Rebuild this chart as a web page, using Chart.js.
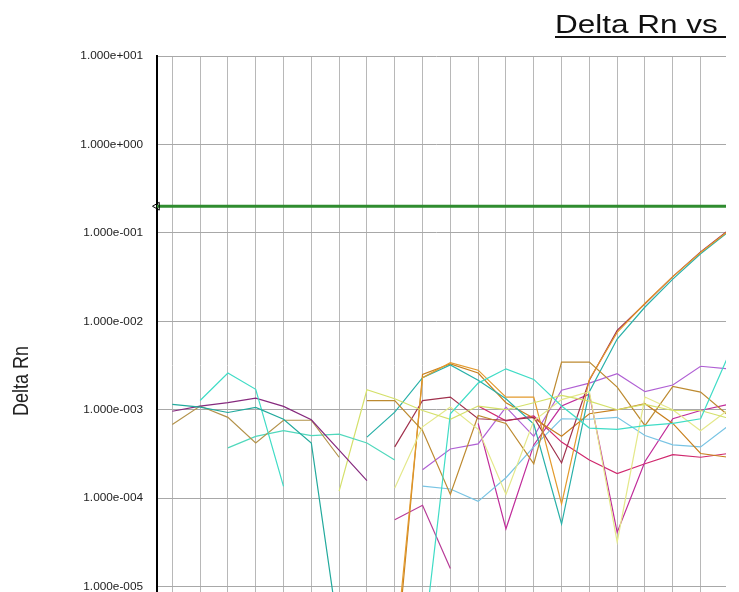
<!DOCTYPE html>
<html>
<head>
<meta charset="utf-8">
<script src="https://cdn.jsdelivr.net/npm/chart.js@4.4.1/dist/chart.umd.min.js"></script>
<style>
  html, body { margin: 0; padding: 0; background: #fff; overflow: hidden; }
  #wrap { position: absolute; left: 0; top: 0; width: 726px; height: 592px; overflow: hidden; background: #fff; }
  #chart { display: block; }
</style>
</head>
<body>
<div id="wrap"><canvas id="chart" width="1300" height="700"></canvas></div>
<script>
// cycles shown in the cropped view
const cycles = [1, 2, 3, 4, 5, 6, 7, 8, 9, 10, 11, 12, 13, 14, 15, 16, 17, 18, 19, 20, 21];

// Delta Rn per well (null = no value on a log axis)
const tealA = [1.15e-3, 1.07e-3, 0.93e-3, 1.06e-3, 0.78e-3, 0.42e-3, 2.7e-6, null, null, null, null, null, null, null, null, null, null, null, null, null, null];
const turqA = [null, 1.27e-3, 2.6e-3, 1.7e-3, 1.36e-4, null, null, null, null, 1.8e-6, 0.9e-3, 2.0e-3, 2.9e-3, 2.2e-3, 1.1e-3, 0.62e-3, 0.6e-3, 0.66e-3, 0.7e-3, 0.79e-3, 4.1e-3];
const purpleDk = [0.96e-3, 1.1e-3, 1.2e-3, 1.35e-3, 1.09e-3, 0.77e-3, 3.5e-4, 1.58e-4, null, null, null, null, null, null, null, null, null, null, null, null, null];
const olive = [0.68e-3, 1.1e-3, 0.82e-3, 0.42e-3, 0.76e-3, 0.76e-3, 2.9e-4, null, null, null, null, null, null, null, null, null, null, null, null, null, null];
const turqLt = [null, null, 0.37e-3, 0.5e-3, 0.58e-3, 0.51e-3, 0.53e-3, 0.42e-3, 0.27e-3, null, null, null, null, null, null, null, null, null, null, null, null];
const yellowA = [null, null, null, null, null, null, 1.2e-4, 1.68e-3, 1.33e-3, 0.98e-3, 0.78e-3, 1.1e-3, 1.0e-3, 1.2e-3, 1.45e-3, 1.25e-3, 1.0e-3, 1.15e-3, 0.98e-3, 0.98e-3, 0.8e-3];
const yellowB = [null, null, null, null, null, null, null, null, 1.3e-4, 0.64e-3, 1.07e-3, 0.6e-3, 1.1e-4, 0.75e-3, 1.3e-3, 1.6e-3, 3.2e-5, 1.39e-3, 1.0e-3, 0.58e-3, 1.0e-3];
const brownB = [null, null, null, null, null, null, null, 1.27e-3, 1.27e-3, 0.58e-3, 1.1e-4, 0.86e-3, 0.7e-3, 2.45e-4, 3.46e-3, 3.46e-3, 1.8e-3, 0.66e-3, 1.84e-3, 1.58e-3, 0.86e-3];
const orangeAmp = [null, null, null, null, null, null, null, null, 1.5e-6, 2.3e-3, 3.4e-3, 2.8e-3, 1.39e-3, 1.39e-3, 8.6e-5, 2.2e-3, 7.5e-3, 0.016, 0.032, 0.06, 0.105];
const maroonAmp = [null, null, null, null, null, null, null, null, 3.8e-4, 1.27e-3, 1.39e-3, 0.79e-3, 0.76e-3, 0.82e-3, 2.5e-4, 2.15e-3, 7.9e-3, 0.0158, 0.032, 0.061, 0.107];
const tealAmp = [null, null, null, null, null, null, null, 0.49e-3, 0.94e-3, 2.3e-3, 3.2e-3, 2.15e-3, 1.33e-3, 0.69e-3, 5.1e-5, 1.6e-3, 6.3e-3, 0.0145, 0.030, 0.058, 0.103];
const orangeDk = [null, null, null, null, null, null, null, null, 1.0e-6, 2.5e-3, 3.3e-3, 2.6e-3, 1.2e-3, 0.8e-3, 0.5e-3, 0.9e-3, 1.0e-3, 1.17e-3, 0.7e-3, 3.2e-4, 2.9e-4];
const pinkLow = [null, null, null, null, null, null, null, null, 5.7e-5, 8.3e-5, 1.6e-5, null, null, null, null, null, null, null, null, null, null];
const lightBlue = [null, null, null, null, null, null, null, null, null, 1.37e-4, 1.27e-4, 9.2e-5, 1.7e-4, 0.38e-3, 0.79e-3, 0.78e-3, 0.82e-3, 0.51e-3, 0.40e-3, 0.38e-3, 0.66e-3];
const violet = [null, null, null, null, null, null, null, null, null, 2.1e-4, 3.6e-4, 0.41e-3, 1.07e-3, 0.5e-3, 1.66e-3, 2.0e-3, 2.55e-3, 1.6e-3, 1.9e-3, 3.1e-3, 2.9e-3];
const magenta = [null, null, null, null, null, null, null, null, null, null, null, 0.7e-3, 4.5e-5, 0.4e-3, 1.1e-3, 1.5e-3, 4.1e-5, 2.6e-4, 0.79e-3, 0.98e-3, 1.15e-3];
const pinkRed = [null, null, null, null, null, null, null, null, null, null, null, 1.1e-3, 0.75e-3, 0.85e-3, 0.43e-3, 2.7e-4, 1.9e-4, 2.45e-4, 3.1e-4, 2.9e-4, 3.2e-4];

const threshold = 0.2;

const yTickValues = [1e-6, 1e-5, 1e-4, 1e-3, 1e-2, 1e-1, 1, 10];
const yTickLabels = ["1.000e-006", "1.000e-005", "1.000e-004", "1.000e-003", "1.000e-002", "1.000e-001", "1.000e+000", "1.000e+001"];

const titleText = "Delta Rn vs Cycle";
const yTitleText = "Delta Rn";

const wells = [
  { name: "tealA", values: tealA, color: "#22a99c" },
  { name: "turqA", values: turqA, color: "#3fdcc6" },
  { name: "purpleDk", values: purpleDk, color: "#862a7e" },
  { name: "olive", values: olive, color: "#b3924a" },
  { name: "turqLt", values: turqLt, color: "#50d8bc" },
  { name: "yellowA", values: yellowA, color: "#d4e06a" },
  { name: "yellowB", values: yellowB, color: "#e4e88a" },
  { name: "brownB", values: brownB, color: "#bd8a30" },
  { name: "orangeAmp", values: orangeAmp, color: "#e39a2c" },
  { name: "maroonAmp", values: maroonAmp, color: "#a0304c" },
  { name: "tealAmp", values: tealAmp, color: "#28b0a8" },
  { name: "orangeDk", values: orangeDk, color: "#c8801e" },
  { name: "pinkLow", values: pinkLow, color: "#b83c98" },
  { name: "lightBlue", values: lightBlue, color: "#78c4e4" },
  { name: "violet", values: violet, color: "#b060d4" },
  { name: "magenta", values: magenta, color: "#c02c9a" },
  { name: "pinkRed", values: pinkRed, color: "#d0286e" }
];

const datasets = wells.map(function (w) {
  return {
    label: w.name,
    data: cycles.map(function (c, i) { return { x: c, y: w.values[i] }; }),
    borderColor: w.color,
    backgroundColor: w.color,
    borderWidth: 1.2,
    pointRadius: 0,
    tension: 0
  };
});

// threshold line with the small arrow at the axis
datasets.push({
  label: "Threshold",
  data: [{ x: 0.45, y: threshold }, { x: 40.55, y: threshold }],
  borderColor: "#2f8c2f",
  borderWidth: 3,
  pointRadius: [4.5, 0],
  pointStyle: "triangle",
  rotation: -90,
  pointBackgroundColor: "rgba(0,0,0,0)",
  pointBorderColor: "#000",
  pointBorderWidth: 1,
  clip: false
});

// underlined chart title and rotated y title
const textPlugin = {
  id: "textPlugin",
  afterDraw(chart) {
    const ctx = chart.ctx;
    ctx.save();
    ctx.fillStyle = "#111";
    ctx.translate(555, 0);
    ctx.scale(1.26, 1);
    ctx.font = '25px "Liberation Sans", Arial, sans-serif';
    ctx.textBaseline = "alphabetic";
    ctx.fillText(titleText, 0, 33);
    const w = ctx.measureText(titleText).width;
    ctx.fillRect(0, 36, w, 2);
    ctx.restore();

    ctx.save();
    ctx.fillStyle = "#222";
    ctx.translate(22, 381);
    ctx.scale(1.2, 1);
    ctx.rotate(-Math.PI / 2);
    ctx.font = '18px "Liberation Sans", Arial, sans-serif';
    ctx.textAlign = "center";
    ctx.textBaseline = "middle";
    ctx.fillText(yTitleText, 0, 0);
    ctx.restore();
  }
};

const ctx = document.getElementById("chart").getContext("2d");
const chart = new Chart(ctx, {
  type: "line",
  data: { datasets: datasets },
  plugins: [textPlugin],
  options: {
    responsive: false,
    animation: false,
    devicePixelRatio: 1,
    layout: { padding: { top: 56, right: 28, bottom: 0, left: 0 } },
    plugins: {
      legend: { display: false },
      title: { display: false },
      tooltip: { enabled: false }
    },
    scales: {
      x: {
        type: "linear",
        min: 0.45,
        max: 40.55,
        afterBuildTicks: function (scale) {
          const t = [];
          for (let c = 1; c <= 40; c++) t.push({ value: c });
          scale.ticks = t;
        },
        afterFit: function (scale) { scale.height = 25; },
        ticks: { display: false },
        grid: { color: "#b8b8b8", lineWidth: 1, drawTicks: false },
        border: { display: false }
      },
      y: {
        type: "logarithmic",
        min: 1e-6,
        max: 10,
        afterBuildTicks: function (scale) {
          scale.ticks = yTickValues.map(function (v) { return { value: v }; });
        },
        afterFit: function (scale) { scale.width = 157; },
        ticks: {
          padding: 14,
          color: "#222",
          font: { family: '"Liberation Sans", Arial, sans-serif', size: 11.8 },
          callback: function (value, index) { return yTickLabels[index]; }
        },
        grid: { color: "#a8a8a8", lineWidth: 1, drawTicks: false },
        border: { display: true, color: "#000", width: 2 }
      }
    }
  }
});
</script>
</body>
</html>
